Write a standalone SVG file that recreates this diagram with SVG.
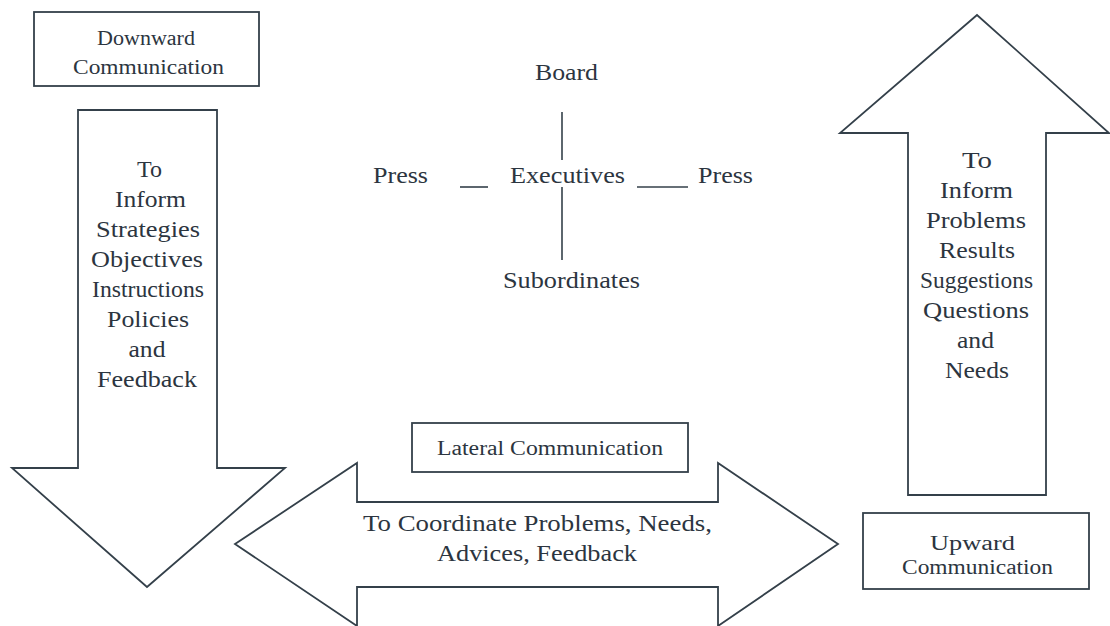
<svg xmlns="http://www.w3.org/2000/svg" width="1110" height="626" viewBox="0 0 1110 626">
<style>
.bg{fill:#ffffff}
.shape{fill:#ffffff;stroke:#34404a;stroke-width:1.8;stroke-linejoin:miter}
.line{stroke:#34404a;stroke-width:1.6;fill:none}
text{font-family:"Liberation Serif","Times New Roman",serif;fill:#2c3540;text-anchor:middle}
.box{font-size:20px}
.arr{font-size:24px}
.mid{font-size:23px}
</style>
<rect class="bg" x="0" y="0" width="1110" height="626"/>

<g id="downward-label">
<rect class="shape" x="34" y="12" width="225" height="74"/>
<text class="box" x="146" y="45" textLength="98" lengthAdjust="spacingAndGlyphs">Downward</text>
<text class="box" x="148.5" y="74" textLength="151" lengthAdjust="spacingAndGlyphs">Communication</text>
</g>

<g id="downward-arrow">
<path class="shape" d="M78,110 L217,110 L217,468 L285,468 L147,587 L12,468 L78,468 Z"/>
<text class="arr" x="149.5" y="177" textLength="25" lengthAdjust="spacingAndGlyphs">To</text>
<text class="arr" x="150.5" y="207" textLength="71" lengthAdjust="spacingAndGlyphs">Inform</text>
<text class="arr" x="148" y="237" textLength="104" lengthAdjust="spacingAndGlyphs">Strategies</text>
<text class="arr" x="147" y="267" textLength="112" lengthAdjust="spacingAndGlyphs">Objectives</text>
<text class="arr" x="148" y="297" textLength="112" lengthAdjust="spacingAndGlyphs">Instructions</text>
<text class="arr" x="148" y="327" textLength="82" lengthAdjust="spacingAndGlyphs">Policies</text>
<text class="arr" x="147" y="357" textLength="37" lengthAdjust="spacingAndGlyphs">and</text>
<text class="arr" x="147" y="387" textLength="100" lengthAdjust="spacingAndGlyphs">Feedback</text>
</g>

<g id="board"><text class="mid" x="566.5" y="80" textLength="63" lengthAdjust="spacingAndGlyphs">Board</text></g>
<g id="press-left"><text class="mid" x="400.5" y="183" textLength="55" lengthAdjust="spacingAndGlyphs">Press</text></g>
<g id="executives"><text class="mid" x="567.5" y="183" textLength="115" lengthAdjust="spacingAndGlyphs">Executives</text></g>
<g id="press-right"><text class="mid" x="725.5" y="183" textLength="55" lengthAdjust="spacingAndGlyphs">Press</text></g>
<g id="subordinates"><text class="mid" x="571.5" y="288" textLength="137" lengthAdjust="spacingAndGlyphs">Subordinates</text></g>

<g id="connectors">
<line class="line" x1="562" y1="112" x2="562" y2="160"/>
<line class="line" x1="562" y1="187" x2="562" y2="260"/>
<line class="line" x1="460" y1="187" x2="488" y2="187"/>
<line class="line" x1="637" y1="187" x2="688" y2="187"/>
</g>

<g id="upward-arrow">
<path class="shape" d="M908,495 L908,133 L840,133 L977,15 L1109,133 L1046,133 L1046,495 Z"/>
<text class="arr" x="977" y="168" textLength="30" lengthAdjust="spacingAndGlyphs">To</text>
<text class="arr" x="976.5" y="198" textLength="73" lengthAdjust="spacingAndGlyphs">Inform</text>
<text class="arr" x="976" y="228" textLength="100" lengthAdjust="spacingAndGlyphs">Problems</text>
<text class="arr" x="977" y="258" textLength="76" lengthAdjust="spacingAndGlyphs">Results</text>
<text class="arr" x="976.5" y="288" textLength="113" lengthAdjust="spacingAndGlyphs">Suggestions</text>
<text class="arr" x="976" y="318" textLength="106" lengthAdjust="spacingAndGlyphs">Questions</text>
<text class="arr" x="975.5" y="348" textLength="37" lengthAdjust="spacingAndGlyphs">and</text>
<text class="arr" x="977" y="378" textLength="64" lengthAdjust="spacingAndGlyphs">Needs</text>
</g>

<g id="upward-label">
<rect class="shape" x="863" y="513" width="226" height="76"/>
<text class="box" x="972.5" y="550" textLength="85" lengthAdjust="spacingAndGlyphs">Upward</text>
<text class="box" x="977.5" y="574" textLength="151" lengthAdjust="spacingAndGlyphs">Communication</text>
</g>

<g id="lateral-arrow">
<path class="shape" d="M235,544 L357,463 L357,502 L718,502 L718,463 L838,544 L718,626 L718,587 L357,587 L357,626 Z"/>
<text class="arr" x="537.5" y="531" textLength="349" lengthAdjust="spacingAndGlyphs">To Coordinate Problems, Needs,</text>
<text class="arr" x="537" y="561" textLength="200" lengthAdjust="spacingAndGlyphs">Advices, Feedback</text>
</g>

<g id="lateral-label">
<rect class="shape" x="412" y="423" width="276" height="49"/>
<text class="box" x="550" y="455" textLength="226" lengthAdjust="spacingAndGlyphs">Lateral Communication</text>
</g>
</svg>
